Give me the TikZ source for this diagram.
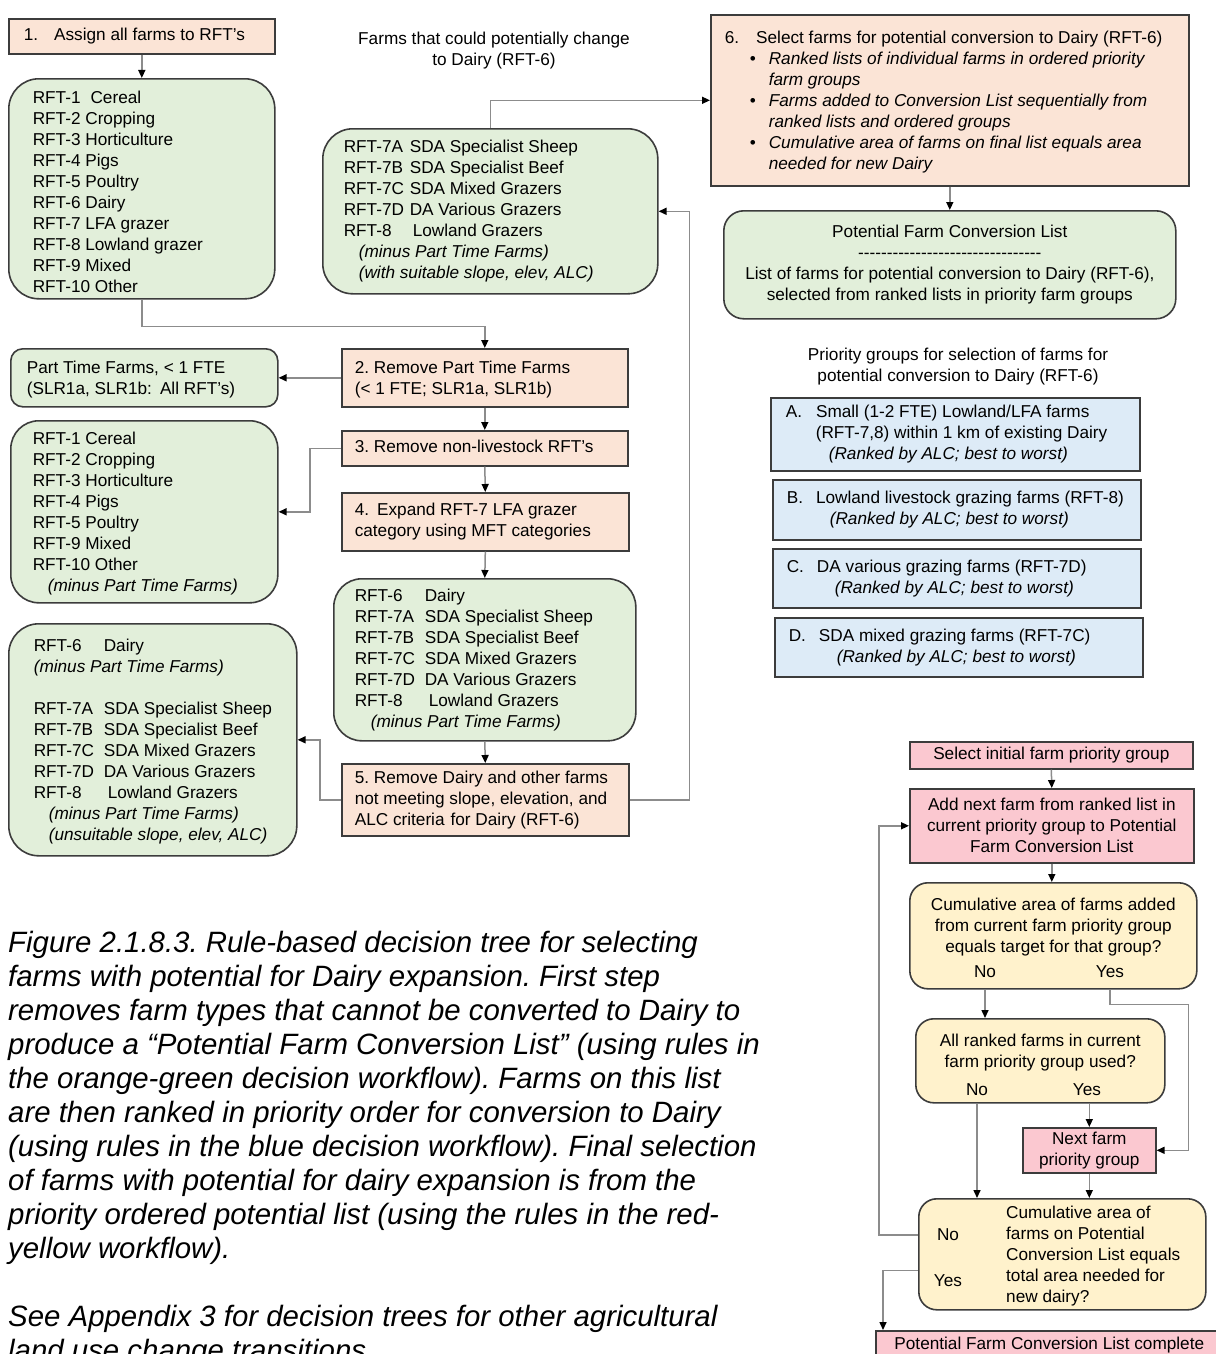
\documentclass[tikz,border=0pt]{standalone}
\usepackage{fontspec}
\setmainfont{Liberation Sans}
\usetikzlibrary{arrows.meta,calc}
\frenchspacing
\definecolor{peach}{HTML}{FBE4D6}
\definecolor{leaf}{HTML}{E2EFDA}
\definecolor{sky}{HTML}{DDEBF7}
\definecolor{rose}{HTML}{FBC8D0}
\definecolor{cream}{HTML}{FFF2CC}
\definecolor{edge}{HTML}{3C3C3C}
\definecolor{wire}{HTML}{8C8C8C}
\newcommand{\dfont}{\fontsize{17.2}{21}\selectfont}
\newcommand{\capfont}{\fontsize{29.4}{34}\selectfont\itshape}
\newcommand{\tb}[2]{\makebox[#1][l]{\begin{tabular}{@{}l@{}}#2\end{tabular}}}
\newcommand{\rc}[1]{\makebox[66pt][l]{#1}}
\newcommand{\rl}[1]{\makebox[70pt][l]{#1}}
\newcommand{\dashrule}{-\kern0pt-\kern0pt-\kern0pt-\kern0pt-\kern0pt-\kern0pt-\kern0pt-\kern0pt-\kern0pt-\kern0pt-\kern0pt-\kern0pt-\kern0pt-\kern0pt-\kern0pt-\kern0pt-\kern0pt-\kern0pt-\kern0pt-\kern0pt-\kern0pt-\kern0pt-\kern0pt-\kern0pt-\kern0pt-\kern0pt-\kern0pt-\kern0pt-\kern0pt-\kern0pt-\kern0pt-}
\begin{document}
\begin{tikzpicture}[x=1pt,y=-1pt,
  box/.style={draw=edge, line width=1.6pt, anchor=north west, inner ysep=0pt, font=\dfont},
  orange/.style={box, fill=peach},
  greenbox/.style={box, fill=leaf, rounded corners=#1},
  greenbox/.default=28pt,
  bluebox/.style={box, fill=sky},
  pinkbox/.style={box, fill=rose, align=center, inner xsep=2pt},
  yellowbox/.style={box, fill=cream, rounded corners=18pt, align=center},
  plain/.style={font=\dfont, align=center, inner sep=0pt},
  conn/.style={draw=wire, line width=1.5pt, -{Triangle[length=8pt,width=7pt,color=black]}}]
\fill[white] (0,0) rectangle (1215,1354);
\useasboundingbox (0,0) rectangle (1215,1354);

% ---------- orange-green workflow ----------
\node[orange, minimum width=266, minimum height=35, inner xsep=15pt] (n1) at (8,18)
  {\tb{236pt}{1.\hspace{16pt}Assign all farms to RFT’s}};
\node[greenbox=30pt, minimum width=266, minimum height=220, inner xsep=24pt] (rftall) at (8,78)
  {\tb{218pt}{RFT-1\hspace{10pt}Cereal\\RFT-2 Cropping\\RFT-3 Horticulture\\RFT-4 Pigs\\RFT-5 Poultry\\RFT-6 Dairy\\RFT-7 LFA grazer\\RFT-8 Lowland grazer\\RFT-9 Mixed\\RFT-10 Other\\[-10pt]}};
\node[plain] (ftitle) at (494,51) {Farms that could potentially change\\to Dairy (RFT-6)};
\node[greenbox=30pt, minimum width=335, minimum height=165, inner xsep=21pt] (suitable) at (322,128)
  {\tb{293pt}{\rc{RFT-7A}SDA Specialist Sheep\\\rc{RFT-7B}SDA Specialist Beef\\\rc{RFT-7C}SDA Mixed Grazers\\\rc{RFT-7D}DA Various Grazers\\\makebox[69pt][l]{RFT-8}Lowland Grazers\\\hspace*{15pt}\itshape(minus Part Time Farms)\\\hspace*{15pt}\itshape(with suitable slope, elev, ALC)}};
\node[orange, minimum width=478, minimum height=171, inner xsep=14pt] (box6) at (710,14)
  {\tb{450pt}{6.\hspace{17pt}Select farms for potential conversion to Dairy (RFT-6)\\
  \hspace*{25pt}\makebox[19pt][l]{\textbullet}\itshape Ranked lists of individual farms in ordered priority\\
  \hspace*{44pt}\itshape farm groups\\
  \hspace*{25pt}\makebox[19pt][l]{\textbullet}\itshape Farms added to Conversion List sequentially from\\
  \hspace*{44pt}\itshape ranked lists and ordered groups\\
  \hspace*{25pt}\makebox[19pt][l]{\textbullet}\itshape Cumulative area of farms on final list equals area\\
  \hspace*{44pt}\itshape needed for new Dairy\\[-4pt]}};
\node[greenbox=20pt, minimum width=452, minimum height=108, align=center] (pfcl) at (723,210)
  {Potential Farm Conversion List\\\dashrule\\List of farms for potential conversion to Dairy (RFT-6),\\selected from ranked lists in priority farm groups};

\node[orange, minimum width=286, minimum height=58, inner xsep=13pt] (box2) at (341,348)
  {\tb{260pt}{2. Remove Part Time Farms\\(< 1 FTE; SLR1a, SLR1b)\\[-3pt]}};
\node[greenbox=12pt, minimum width=267, minimum height=58, inner xsep=16pt] (pt) at (10,348)
  {\tb{235pt}{Part Time Farms, < 1 FTE\\(SLR1a, SLR1b:\hspace{8pt}All RFT’s)\\[-3pt]}};
\node[orange, minimum width=286, minimum height=35, inner xsep=13pt] (box3) at (341,430)
  {\tb{260pt}{3. Remove non-livestock RFT’s}};
\node[greenbox=28pt, minimum width=267, minimum height=182, inner xsep=22pt] (nonlive) at (10,420)
  {\tb{223pt}{RFT-1 Cereal\\RFT-2 Cropping\\RFT-3 Horticulture\\RFT-4 Pigs\\RFT-5 Poultry\\RFT-9 Mixed\\RFT-10 Other\\\hspace*{15pt}\itshape(minus Part Time Farms)\\[-4pt]}};
\node[orange, minimum width=287, minimum height=58, inner xsep=13pt] (box4) at (341,492)
  {\tb{261pt}{4.\hspace{8pt}Expand RFT-7 LFA grazer\\category using MFT categories}};
\node[greenbox=28pt, minimum width=302, minimum height=162, inner xsep=21pt] (livestock) at (333,578)
  {\tb{260pt}{\rl{RFT-6}Dairy\\\rl{RFT-7A}SDA Specialist Sheep\\\rl{RFT-7B}SDA Specialist Beef\\\rl{RFT-7C}SDA Mixed Grazers\\\rl{RFT-7D}DA Various Grazers\\\makebox[74pt][l]{RFT-8}Lowland Grazers\\\hspace*{16pt}\itshape(minus Part Time Farms)}};
\node[orange, minimum width=287, minimum height=72, inner xsep=13pt] (box5) at (341,763)
  {\tb{261pt}{5. Remove Dairy and other farms\\not meeting slope, elevation, and\\ALC criteria\hspace{6pt}for Dairy (RFT-6)}};
\node[greenbox=30pt, minimum width=288, minimum height=232, inner xsep=25pt] (unsuit) at (8,623)
  {\tb{238pt}{\rl{RFT-6}Dairy\\\itshape(minus Part Time Farms)\\ \\\rl{RFT-7A}SDA Specialist Sheep\\\rl{RFT-7B}SDA Specialist Beef\\\rl{RFT-7C}SDA Mixed Grazers\\\rl{RFT-7D}DA Various Grazers\\\makebox[74pt][l]{RFT-8}Lowland Grazers\\\hspace*{15pt}\itshape(minus Part Time Farms)\\\hspace*{15pt}\itshape(unsuitable slope, elev, ALC)\\[-3pt]}};

% ---------- blue priority groups ----------
\node[plain] (ptitle) at (958,367) {Priority groups for selection of farms for\\potential conversion to Dairy (RFT-6)};
\node[bluebox, minimum width=369, minimum height=73, inner xsep=15pt] (gA) at (770,397)
  {\tb{339pt}{A.\hspace{14pt}Small (1-2 FTE) Lowland/LFA farms\\\hspace*{30pt}(RFT-7,8) within 1 km of existing Dairy\\\hspace*{43pt}\itshape(Ranked by ALC; best to worst)}};
\node[bluebox, minimum width=368, minimum height=60, inner xsep=14pt] (gB) at (772,479)
  {\tb{340pt}{B.\hspace{13pt}Lowland livestock grazing farms (RFT-8)\\\hspace*{43pt}\itshape(Ranked by ALC; best to worst)}};
\node[bluebox, minimum width=368, minimum height=59, inner xsep=14pt] (gC) at (772,548)
  {\tb{340pt}{C.\hspace{13pt}DA various grazing farms (RFT-7D)\\\hspace*{48pt}\itshape(Ranked by ALC; best to worst)}};
\node[bluebox, minimum width=368, minimum height=59, inner xsep=14pt] (gD) at (774,617)
  {\tb{340pt}{D.\hspace{13pt}SDA mixed grazing farms (RFT-7C)\\\hspace*{48pt}\itshape(Ranked by ALC; best to worst)}};

% ---------- red-yellow workflow ----------
\node[pinkbox, minimum width=283, minimum height=27] (s1) at (909,741) {Select initial farm priority group};
\node[pinkbox, minimum width=284, minimum height=74] (s2) at (909,788) {Add next farm from ranked list in\\current priority group to Potential\\Farm Conversion List};
\node[yellowbox, minimum width=287, minimum height=106] (s3) at (909,882) {Cumulative area of farms added\\from current farm priority group\\equals target for that group?\\\mbox{}};
\node[plain] (no1) at (985,972) {No};
\node[plain] (yes1) at (1110,972) {Yes};
\node[yellowbox, minimum width=249, minimum height=84] (s4) at (915,1018) {All ranked farms in current\\farm priority group used?\\\mbox{}};
\node[plain] (no2) at (977,1090) {No};
\node[plain] (yes2) at (1087,1090) {Yes};
\node[pinkbox, minimum width=133, minimum height=45] (s5) at (1022,1127) {Next farm\\priority group};
\node[yellowbox, minimum width=287, minimum height=111] (s6) at (918,1198) {};
\node[plain, align=left, anchor=west] (s6t) at (1006,1256) {Cumulative area of\\farms on Potential\\Conversion List equals\\total area needed for\\new dairy?};
\node[plain] (no3) at (948,1235) {No};
\node[plain] (yes3) at (948,1281) {Yes};
\node[pinkbox, minimum width=347, minimum height=28] (s7) at (875,1330) {Potential Farm Conversion List complete};

% ---------- caption ----------
\node[anchor=north west, align=left, inner sep=0pt, font=\capfont] (cap) at (8,931)
  {Figure 2.1.8.3. Rule-based decision tree for selecting\\
   farms with potential for Dairy expansion. First step\\
   removes farm types that cannot be converted to Dairy to\\
   produce a “Potential Farm Conversion List” (using rules in\\
   the orange-green decision workflow). Farms on this list\\
   are then ranked in priority order for conversion to Dairy\\
   (using rules in the blue decision workflow). Final selection\\
   of farms with potential for dairy expansion is from the\\
   priority ordered potential list (using the rules in the red-\\
   yellow workflow).\\[34pt]
   See Appendix 3 for decision trees for other agricultural\\
   land use change transitions.};

% ---------- connectors ----------
\draw[conn] (n1.south) -- (rftall.north);
\draw[conn] (rftall.south) -- ++(0,27) -| (box2.north);
\draw[conn] (box2.west) -- (pt.east);
\draw[conn] (box2.south) -- (box3.north);
\draw[conn] (box3.west) -- ++(-31,0) |- (nonlive.east);
\draw[conn] (box3.south) -- (box4.north);
\draw[conn] (box4.south) -- (livestock.north);
\draw[conn] (livestock.south) -- (box5.north);
\draw[conn] (box5.west) -- ++(-21,0) |- (unsuit.east);
\draw[conn] (box5.east) -- ++(60,0) |- (suitable.east);
\draw[conn] (suitable.north) |- (box6.west);
\draw[conn] (box6.south) -- (pfcl.north);

\draw[conn] (s1.south) -- (s2.north);
\draw[conn] (s2.south) -- (s2.south |- s3.north);
\draw[conn] (no1 |- s3.south) -- (no1 |- s4.north);
\draw[conn] (yes1 |- s3.south) -- ++(0,15) -| ([xshift=32pt]s5.east) -- (s5.east);
\draw[conn] (s5.north |- s4.south) -- (s5.north);
\draw[conn] (no2 |- s4.south) -- (no2 |- s6.north);
\draw[conn] (s5.south) -- (s5.south |- s6.north);
\draw[conn] (s6.west |- no3) -- ++(-39,0) |- (s2.west);
\draw[conn] ([yshift=-16pt]s6.west) -| ([xshift=8pt]s7.north west);
\end{tikzpicture}
\end{document}
